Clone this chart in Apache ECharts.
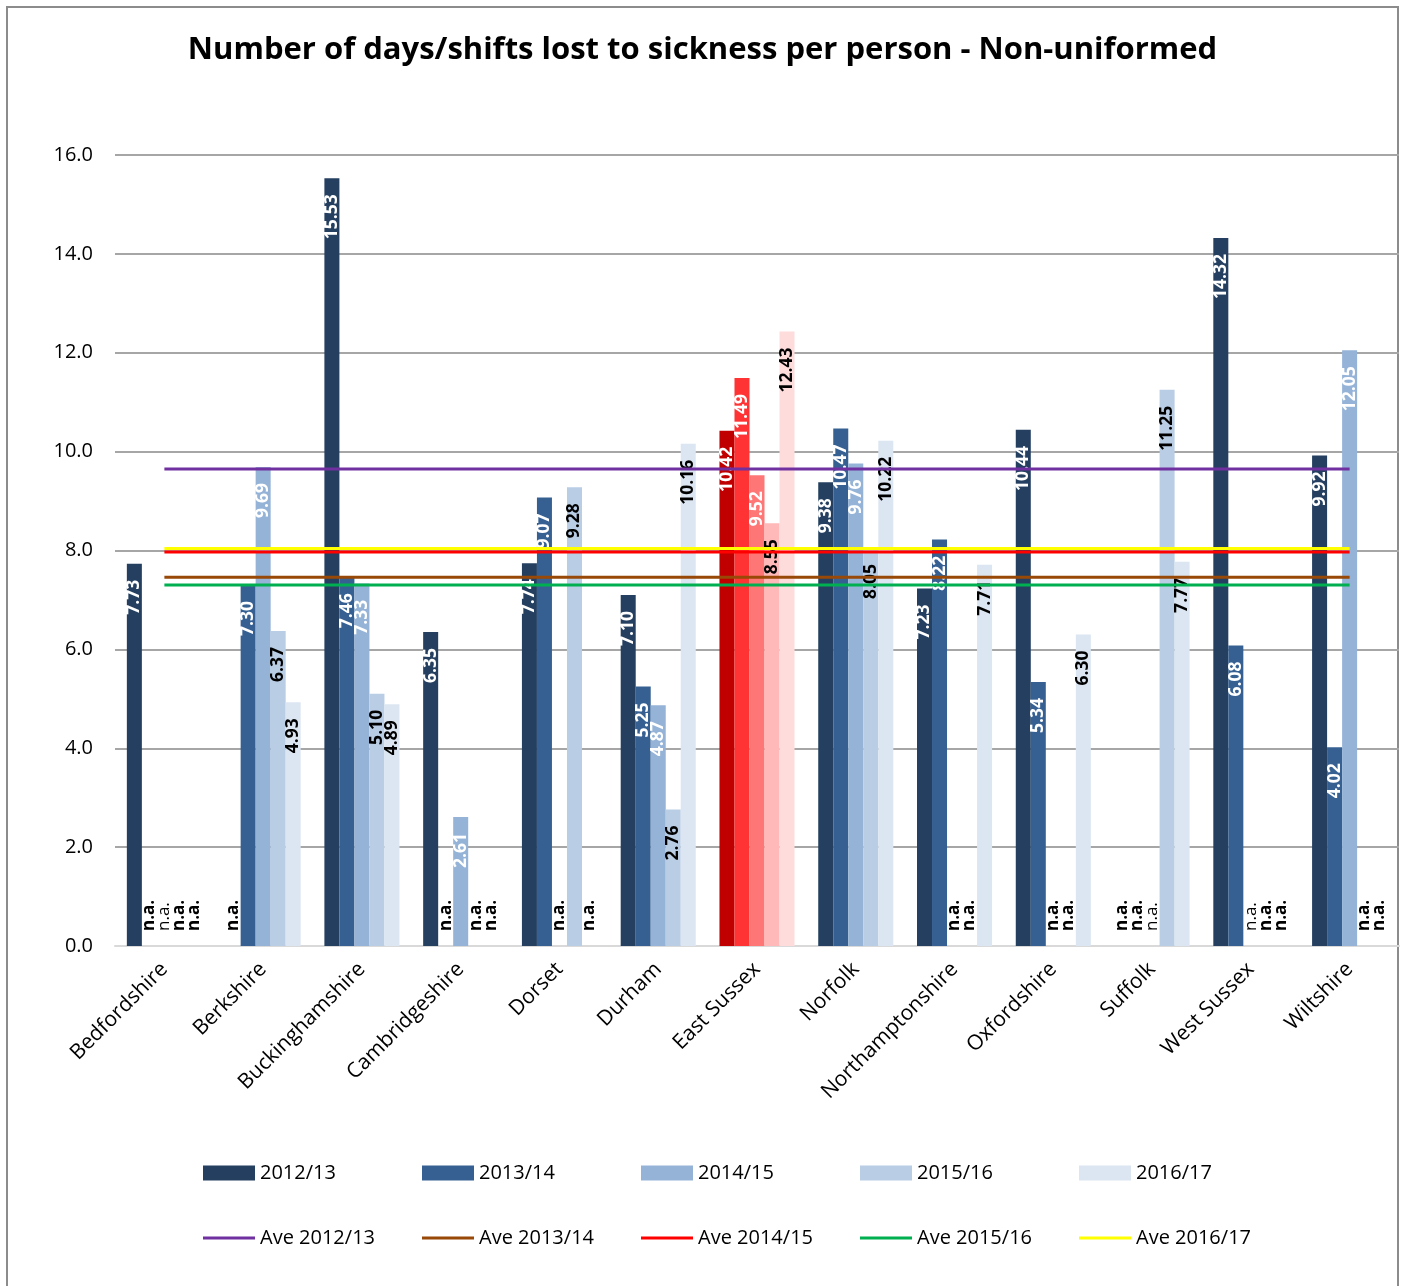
<!DOCTYPE html>
<html>
<head>
<meta charset="utf-8">
<script src="https://cdn.jsdelivr.net/npm/echarts@6/dist/echarts.min.js"></script>
<style>
html,body{margin:0;padding:0;background:#fff;}
#chart{width:1405px;height:1286px;}
</style>
</head>
<body>
<div id="chart"></div>
<script>
const categories = ['Bedfordshire','Berkshire','Buckinghamshire','Cambridgeshire','Dorset','Durham','East Sussex','Norfolk','Northamptonshire','Oxfordshire','Suffolk','West Sussex','Wiltshire'];
const seriesNames = ['2012/13','2013/14','2014/15','2015/16','2016/17'];
const v2012 = [7.73, null, 15.53, 6.35, 7.74, 7.10, 10.42, 9.38, 7.23, 10.44, null, 14.32, 9.92];
const v2013 = [null, 7.30, 7.46, null, 9.07, 5.25, 11.49, 10.47, 8.22, 5.34, null, 6.08, 4.02];
const v2014 = [null, 9.69, 7.33, 2.61, null, 4.87, 9.52, 9.76, null, null, null, null, 12.05];
const v2015 = [null, 6.37, 5.10, null, 9.28, 2.76, 8.55, 8.05, null, null, 11.25, null, null];
const v2016 = [null, 4.93, 4.89, null, null, 10.16, 12.43, 10.22, 7.71, 6.30, 7.77, null, null];
const avgNames = ['Ave 2012/13','Ave 2013/14','Ave 2014/15','Ave 2015/16','Ave 2016/17'];
const avgValues = [9.65, 7.46, 7.97, 7.30, 8.04];
const yTicks = [0, 2, 4, 6, 8, 10, 12, 14, 16];

const FONT = 'Open Sans';
const barColors = ['#243F60','#366092','#95B3D7','#B9CDE5','#DCE6F2'];
const hiColors = ['#C00000','#FF3333','#FF7676','#FFB9B9','#FFDCDC'];
const hiCategory = 'East Sussex';
const labelColors = ['#ffffff','#ffffff','#ffffff','#000000','#000000'];
const avgColors = ['#7030A0','#984807','#FF0000','#00B050','#FFFF00'];
const thinNA = {'2014/15': ['Bedfordshire','Suffolk','West Sussex']};

const allVals = [v2012, v2013, v2014, v2015, v2016];

const barSeries = allVals.map((vals, si) => ({
  name: seriesNames[si],
  type: 'bar',
  barGap: '0%',
  barCategoryGap: '24%',
  itemStyle: { color: barColors[si] },
  z: 2,
  label: {
    show: true,
    position: 'insideTop',
    distance: 16,
    rotate: 90,
    align: 'right',
    verticalAlign: 'middle',
    color: labelColors[si],
    fontFamily: FONT,
    fontWeight: 'bold',
    fontSize: 17.5,
    formatter: p => p.value.toFixed(2)
  },
  data: vals.map((v, ci) => {
    const hi = categories[ci] === hiCategory;
    if (v === null) {
      const thin = (thinNA[seriesNames[si]] || []).includes(categories[ci]);
      return {
        value: 0,
        label: {
          show: true, position: 'top', distance: 15, rotate: 90,
          align: 'left', verticalAlign: 'middle', color: '#000',
          fontWeight: thin ? 'normal' : 'bold', fontSize: 17, fontFamily: FONT,
          formatter: 'n.a.'
        }
      };
    }
    const item = { value: v };
    if (hi) item.itemStyle = { color: hiColors[si] };
    return item;
  })
}));

const lineSeries = avgValues.map((a, i) => ({
  name: avgNames[i],
  type: 'line',
  symbol: 'none',
  silent: true,
  z: 5,
  lineStyle: { color: avgColors[i], width: 3 },
  itemStyle: { color: avgColors[i] },
  data: categories.map(() => a)
}));

const legends = [];
seriesNames.forEach((n, i) => legends.push({
  left: 198 + i * 219, top: 1158, itemWidth: 52, itemHeight: 15, selectedMode: false,
  textStyle: { fontFamily: FONT, fontSize: 20, color: '#000' },
  data: [{ name: n, icon: 'rect' }]
}));
avgNames.forEach((n, i) => legends.push({
  left: 198 + i * 219, top: 1223, itemWidth: 52, itemHeight: 3, selectedMode: false,
  textStyle: { fontFamily: FONT, fontSize: 20, color: '#000' },
  data: [{ name: n, icon: 'rect' }]
}));

const chart = echarts.init(document.getElementById('chart'));
chart.setOption({
  animation: false,
  backgroundColor: '#fff',
  title: {
    text: 'Number of days/shifts lost to sickness per person - Non-uniformed',
    left: 'center',
    top: 30,
    textStyle: { fontFamily: FONT, fontWeight: 'bold', fontSize: 31, color: '#000' }
  },
  graphic: [{
    type: 'rect',
    shape: { x: 7, y: 7, width: 1391, height: 1300 },
    style: { fill: null, stroke: '#8C8C8C', lineWidth: 2 },
    silent: true
  }],
  legend: legends,
  grid: { left: 115, right: 6, top: 155, bottom: 340, containLabel: false },
  xAxis: {
    type: 'category',
    data: categories,
    axisTick: { show: false },
    axisLine: { lineStyle: { color: '#D9D9D9', width: 2 } },
    axisLabel: { rotate: 45, margin: 20, fontFamily: FONT, fontSize: 21, color: '#000', interval: 0 }
  },
  yAxis: {
    type: 'value',
    min: yTicks[0],
    max: yTicks[yTicks.length - 1],
    interval: 2,
    axisLine: { show: false },
    axisTick: { show: false },
    splitLine: { lineStyle: { color: '#A6A6A6', width: 2 } },
    axisLabel: { margin: 22, fontFamily: FONT, fontSize: 20, color: '#000', formatter: v => v.toFixed(1) }
  },
  series: barSeries.concat(lineSeries)
});
</script>
</body>
</html>
